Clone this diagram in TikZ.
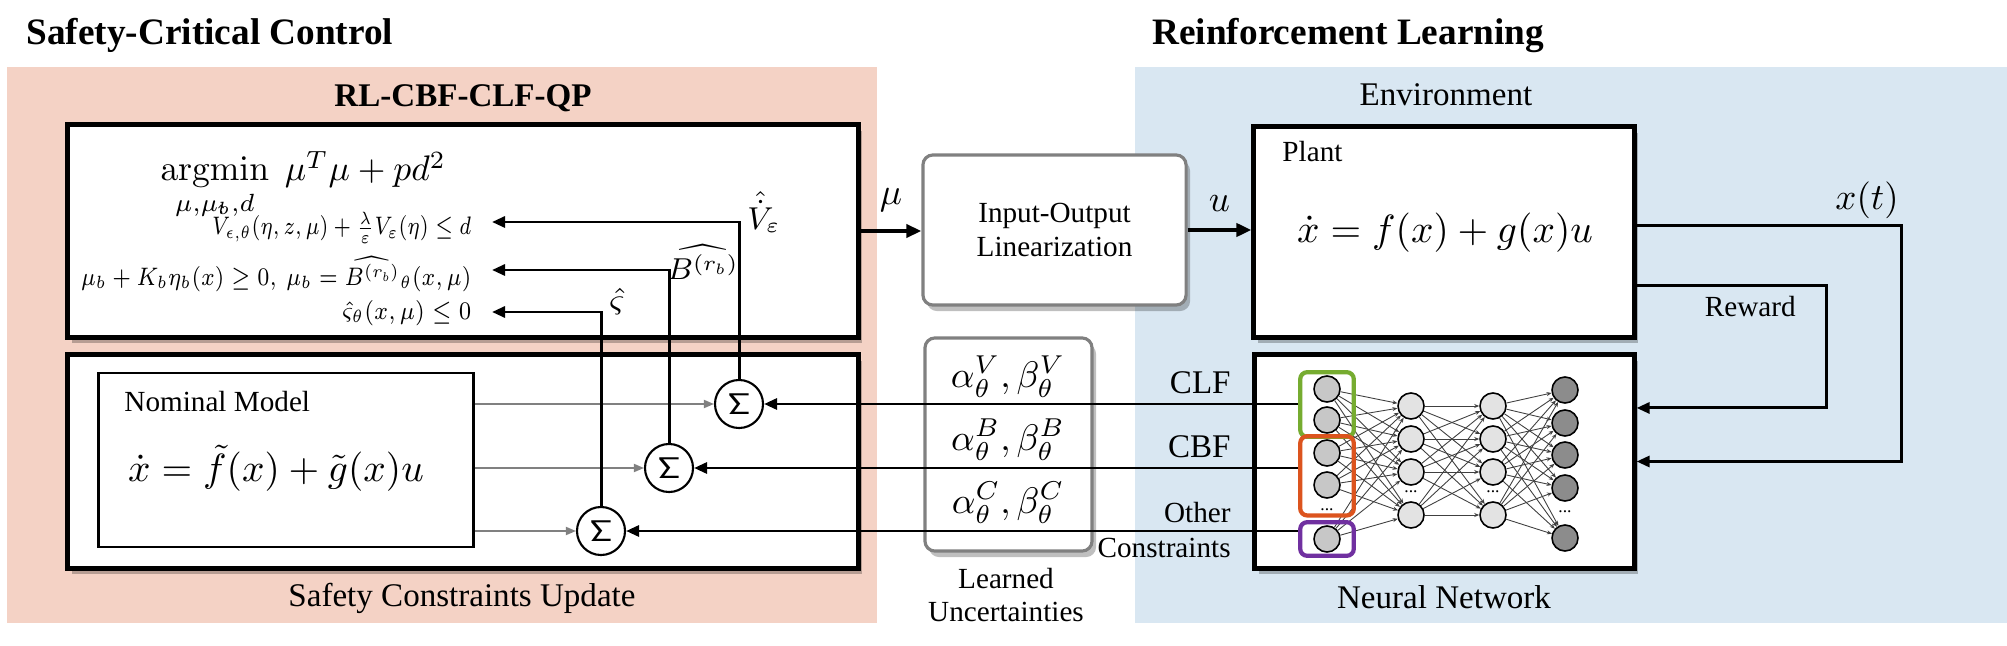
\RequirePackage{fix-cm}
\documentclass[tikz,border=0pt]{standalone}
\usepackage{amsmath}
\usepackage{graphicx}
\usepackage[no-math]{fontspec}
\setmainfont{Liberation Serif}
\usetikzlibrary{arrows.meta, positioning, calc, fit, shadows}
\definecolor{safebg}{RGB}{244,210,197}
\definecolor{rlbg}{RGB}{217,231,242}
\definecolor{clfgreen}{RGB}{118,172,48}
\definecolor{cbforange}{RGB}{220,84,30}
\definecolor{othpurple}{RGB}{112,48,160}
\tikzset{
  shad/.style={drop shadow={shadow xshift=0.04cm, shadow yshift=-0.06cm, opacity=0.25, fill=black}},
  bigbox/.style={draw, line width=1.4pt, fill=white, shad},
  greybox/.style={draw=black!50, line width=0.9pt, rounded corners=0.1cm, fill=white, shad},
  sumnode/.style={circle, draw, fill=white, line width=0.6pt, minimum size=0.48cm, inner sep=0pt,
    font=\fontsize{8.5}{9}\selectfont},
  neuron/.style={circle, draw, line width=0.45pt, fill=#1, minimum size=0.26cm, inner sep=0pt},
  grp/.style={draw=#1, line width=1.2pt, rounded corners=0.07cm, inner xsep=0.13cm, inner ysep=0.03cm},
  arr/.style={-{Triangle[length=0.13cm, width=0.11cm]}, line width=0.85pt},
  thickarr/.style={-{Triangle[length=0.15cm, width=0.13cm]}, line width=1.2pt},
  grayarr/.style={-{Triangle[length=0.1cm, width=0.08cm]}, draw=black!50, line width=0.5pt},
  nnedge/.style={-{Stealth[length=0.05cm, width=0.04cm]}, draw=black!75, line width=0.25pt},
  titletxt/.style={font=\fontsize{10.6}{12}\selectfont\bfseries},
  headtxt/.style={font=\fontsize{9.4}{11}\selectfont\bfseries},
  lbltxt/.style={font=\fontsize{9.4}{11}\selectfont},
  smalltxt/.style={font=\fontsize{8.3}{9.6}\selectfont, align=center},
  eqtxt/.style={font=\fontsize{11.2}{13}\selectfont},
  cstxt/.style={font=\fontsize{7.2}{9}\selectfont, inner sep=0pt},
  mathlbl/.style={font=\fontsize{10.5}{12}\selectfont},
}
\begin{document}
\begin{tikzpicture}[x=0.01cm, y=-0.01cm]
  \useasboundingbox (0,0) rectangle (2007,646);
  % background panels
  \fill[safebg] (7,67) rectangle (877,623);
  \fill[rlbg] (1135,67) rectangle (2007,623);
  \node[titletxt, anchor=west] (sctitle) at (14,35) {Safety-Critical Control};
  \node[titletxt, anchor=west] (rltitle) at (1140,35) {Reinforcement Learning};

  % QP and constraint update
  \node[headtxt] (qptitle) at (463,98) {RL-CBF-CLF-QP};
  \node[bigbox, minimum width=7.9cm, minimum height=2.12cm] (qp) at (463,231) {};
  \node[bigbox, minimum width=7.9cm, minimum height=2.13cm] (upd) at (463,461.5) {};
  \node[lbltxt] (updlbl) at (462,598) {Safety Constraints Update};
  \node[eqtxt, font=\fontsize{10.1}{12}\selectfont, anchor=base west] (obj) at (148,181)
    {$\mathop{\mathrm{argmin}}\limits_{\mu,\mu_b,d}\;\mu^T\mu + pd^2$};
  \node[cstxt, anchor=east] (cv) at (472,224)
    {\resizebox{2.59cm}{\height}{$\hat{\dot{V}}_{\epsilon,\theta}(\eta,z,\mu)+\frac{\lambda}{\varepsilon}V_{\varepsilon}(\eta)\le d$}};
  \node[cstxt, anchor=east] (cb) at (472,274)
    {\resizebox{3.9cm}{\height}{$\mu_b+K_b\eta_b(x)\ge 0,\ \mu_b=\widehat{B^{(r_b)}}_{\theta}(x,\mu)$}};
  \node[cstxt, anchor=east] (cc) at (472,313)
    {\resizebox{1.29cm}{\height}{$\hat{\varsigma}_{\theta}(x,\mu)\le 0$}};
  \coordinate (tv) at (492,222);
  \coordinate (tb) at (492,270);
  \coordinate (tc) at (492,312);

  \node[draw, line width=0.8pt, fill=white, minimum width=3.74cm, minimum height=1.74cm] (nom) at (286,460) {};
  \node[smalltxt, anchor=west] (nomlbl) at (112,402) {Nominal Model};
  \node[eqtxt] (nomeq) at (276,468) {$\dot{x} = \tilde{f}(x) + \tilde{g}(x)u$};

  \node[sumnode] (s1) at (739,404) {$\mathsf{\Sigma}$};
  \node[sumnode] (s2) at (669,468) {$\mathsf{\Sigma}$};
  \node[sumnode] (s3) at (601,531) {$\mathsf{\Sigma}$};
  \draw[grayarr] (nom.east |- s1) -- (s1);
  \draw[grayarr] (nom.east |- s2) -- (s2);
  \draw[grayarr] (nom.east |- s3) -- (s3);
  \draw[arr] (s1.north) |- (tv);
  \draw[arr] (s2.north) |- (tb);
  \draw[arr] (s3.north) |- (tc);
  \node[font=\fontsize{9}{10}\selectfont] (vlbl) at (764,212) {$\hat{\dot{V}}_{\varepsilon}$};
  \node[font=\fontsize{8.6}{10}\selectfont] (blbl) at (703,262) {$\widehat{B^{(r_b)}}$};
  \node[font=\fontsize{9.5}{10}\selectfont] (zlbl) at (617,302) {$\hat{\varsigma}$};

  % linearization and learned terms
  \node[greybox, smalltxt, minimum width=2.63cm, minimum height=1.5cm] (iol) at (1054.5,230)
    {Input-Output\\Linearization};
  \node[greybox, minimum width=1.67cm, minimum height=2.13cm] (lrn) at (1008.5,444.5) {};
  \node[mathlbl] (av) at (1008,377) {$\alpha_{\theta}^{V},\beta_{\theta}^{V}$};
  \node[mathlbl] (ab) at (1008,440) {$\alpha_{\theta}^{B},\beta_{\theta}^{B}$};
  \node[mathlbl] (ac) at (1008,503) {$\alpha_{\theta}^{C},\beta_{\theta}^{C}$};
  \node[smalltxt] (lrnlbl) at (1006,595) {Learned\\Uncertainties};

  % environment
  \node[lbltxt] (envlbl) at (1446,95) {Environment};
  \node[bigbox, minimum width=3.8cm, minimum height=2.1cm] (plant) at (1444,232) {};
  \node[smalltxt, anchor=west] (plantlbl) at (1270,152) {Plant};
  \node[eqtxt] (planteq) at (1445,233) {$\dot{x} = f(x) + g(x)u$};
  \node[bigbox, minimum width=3.79cm, minimum height=2.13cm] (nn) at (1444.5,461.5) {};
  \node[lbltxt] (nnlbl) at (1444,597) {Neural Network};

  % neural network
  \foreach \y [count=\i] in {389,420,453,485,539}
    \node[neuron=black!22] (in\i) at (1327,\y) {};
  \foreach \y [count=\i] in {406,439,472,515} {
    \node[neuron=black!11] (ha\i) at (1411,\y) {};
    \node[neuron=black!11] (hb\i) at (1493,\y) {};
  }
  \foreach \y [count=\i] in {390,423,455,488,538}
    \node[neuron=black!45] (out\i) at (1565,\y) {};
  \foreach \i in {1,...,5}
    \foreach \j in {1,...,4}
      \draw[nnedge] (in\i) -- (ha\j);
  \foreach \i in {1,...,4}
    \foreach \j in {1,...,4}
      \draw[nnedge] (ha\i) -- (hb\j);
  \foreach \i in {1,...,4}
    \foreach \j in {1,...,5}
      \draw[nnedge] (hb\i) -- (out\j);
  \node[inner sep=0pt, font=\fontsize{5}{5}\selectfont] (indots) at (1327,510) {...};
  \node[inner sep=0pt, font=\fontsize{5}{5}\selectfont] (hadots) at (1411,492) {...};
  \node[inner sep=0pt, font=\fontsize{5}{5}\selectfont] (hbdots) at (1493,492) {...};
  \node[inner sep=0pt, font=\fontsize{5}{5}\selectfont] (outdots) at (1565,512) {...};
  \node[grp=clfgreen, fit=(in1)(in2)] (gclf) {};
  \node[grp=cbforange, fit=(in3)(in4)(indots)] (gcbf) {};
  \node[grp=othpurple, fit=(in5)] (goth) {};
  \node[lbltxt, anchor=east] (clflbl) at (1243,383) {CLF};
  \node[lbltxt, anchor=east] (cbflbl) at (1243,447) {CBF};
  \node[smalltxt, anchor=east] (othlbl) at (1243,513) {Other};
  \node[smalltxt, anchor=east] (conlbl) at (1243,548) {Constraints};

  % signal flow
  \draw[thickarr] (qp.east) -- node[mathlbl, above=0.05cm] (mulbl) {$\mu$} (iol.west |- qp.east);
  \draw[thickarr] (iol.east) -- node[mathlbl, above=0.05cm] (ulbl) {$u$} (plant.west |- iol.east);
  \draw[arr] ([yshift=0.06cm]plant.east) -- ++(265,0) |- (nn.east);
  \draw[arr] ([yshift=-0.53cm]plant.east) -- ++(190,0) |- ([yshift=0.535cm]nn.east);
  \node[mathlbl] (xtlbl) at (1867,200) {$x(t)$};
  \node[smalltxt, anchor=east] (rwlbl) at (1808,307) {Reward};
  \draw[arr] (gclf.west |- s1) -- (s1);
  \draw[arr] (gcbf.west |- s2) -- (s2);
  \draw[arr] (goth.west |- s3) -- (s3);
\end{tikzpicture}
\end{document}
